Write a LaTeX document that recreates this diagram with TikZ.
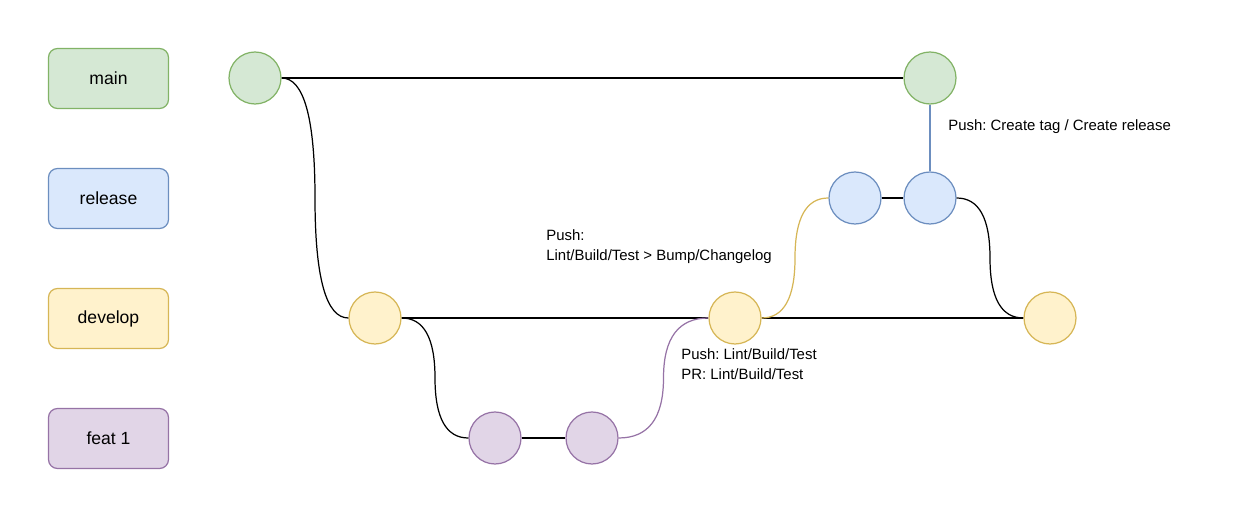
\documentclass[tikz,border=0pt]{standalone}
\usepackage{fontspec}
\setmainfont{Liberation Sans}
\usetikzlibrary{calc}
\frenchspacing

\definecolor{mainfill}{HTML}{D5E8D4}
\definecolor{maindraw}{HTML}{82B366}
\definecolor{relfill}{HTML}{DAE8FC}
\definecolor{reldraw}{HTML}{6C8EBF}
\definecolor{devfill}{HTML}{FFF2CC}
\definecolor{devdraw}{HTML}{D6B656}
\definecolor{featfill}{HTML}{E1D5E7}
\definecolor{featdraw}{HTML}{9673A6}

\tikzset{
    branch/.style={draw, rounded corners=0.18cm, minimum width=2.4cm, minimum height=1.2cm,
        line width=0.7pt, font=\fontsize{10}{12}\selectfont},
    commit/.style={circle, draw, minimum size=1.04cm, inner sep=0pt, line width=0.7pt},
    note/.style={anchor=north west, align=left, inner sep=0pt, font=\fontsize{8.5}{11.5}\selectfont},
    link/.style={line width=0.7pt},
    % s-shaped link: two quadratic pieces bending at the mid column
    curvy/.style={to path={let \p1=(\tikztostart), \p2=(\tikztotarget) in
        .. controls ({(2*\x1+\x2)/3},\y1) and ({(\x1+\x2)/2},{(5*\y1+\y2)/6})
        .. ({(\x1+\x2)/2},{(\y1+\y2)/2})
        .. controls ({(\x1+\x2)/2},{(\y1+5*\y2)/6}) and ({(\x1+2*\x2)/3},\y2)
        .. (\p2) \tikztonodes}}
}

\begin{document}
\begin{tikzpicture}[x=0.02cm,y=-0.02cm]
    \useasboundingbox (0,0) rectangle (1254,519);

    % branch labels
    \node[branch, fill=mainfill, draw=maindraw] (main) at (108.5,78.5) {main};
    \node[branch, fill=relfill, draw=reldraw] (release) at (108.5,198.5) {release};
    \node[branch, fill=devfill, draw=devdraw] (develop) at (108.5,318.5) {develop};
    \node[branch, fill=featfill, draw=featdraw] (feat) at (108.5,438.5) {feat 1};

    % commits
    \node[commit, fill=mainfill, draw=maindraw] (m1) at (255,78) {};
    \node[commit, fill=mainfill, draw=maindraw] (m2) at (930,78) {};
    \node[commit, fill=relfill, draw=reldraw] (r1) at (855,198) {};
    \node[commit, fill=relfill, draw=reldraw] (r2) at (930,198) {};
    \node[commit, fill=devfill, draw=devdraw] (d1) at (375,318) {};
    \node[commit, fill=devfill, draw=devdraw] (d2) at (735,318) {};
    \node[commit, fill=devfill, draw=devdraw] (d3) at (1050,318) {};
    \node[commit, fill=featfill, draw=featdraw] (f1) at (495,438) {};
    \node[commit, fill=featfill, draw=featdraw] (f2) at (592,438) {};

    % straight links
    \draw[link] (m1) -- (m2);
    \draw[link] (d1) -- (d2);
    \draw[link] (d2) -- (d3);
    \draw[link] (f1) -- (f2);
    \draw[link] (r1) -- (r2);
    \draw[link, reldraw] (r2) -- (m2);

    % curved links
    \draw[link] (m1.east) to[curvy] (d1.west);
    \draw[link] (d1.east) to[curvy] (f1.west);
    \draw[link, featdraw] (f2.east) to[curvy] (d2.west);
    \draw[link, devdraw] (d2.east) to[curvy] (r1.west);
    \draw[link] (r2.east) to[curvy] (d3.west);

    % notes
    \node[note] (n1) at (546,229) {Push:\\Lint/Build/Test > Bump/Changelog};
    \node[note] (n2) at (681,348) {Push: Lint/Build/Test\\PR: Lint/Build/Test};
    \node[note] (n3) at (948,119) {Push: Create tag / Create release};

\end{tikzpicture}
\end{document}
